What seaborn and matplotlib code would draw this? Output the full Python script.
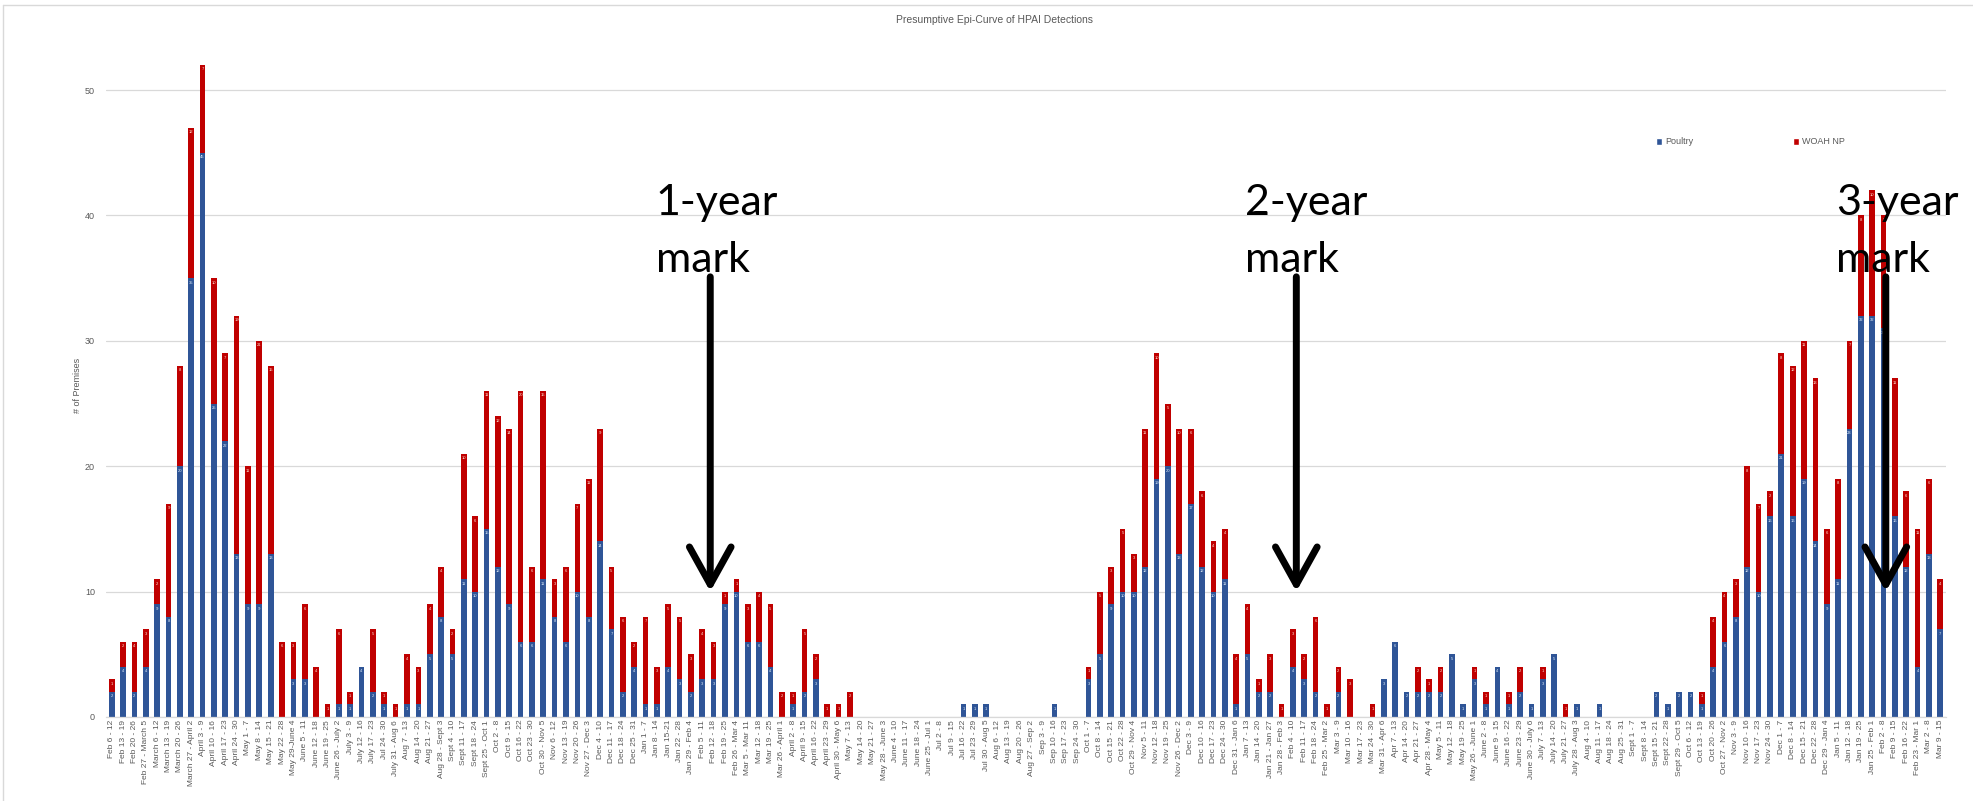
import numpy as np
import pandas as pd
import seaborn as sns
import matplotlib
matplotlib.use("Agg")
import matplotlib.pyplot as plt
from matplotlib.patches import Patch
from matplotlib.lines import Line2D

weeks = [
    "Feb 6 - 12", "Feb 13 - 19", "Feb 20 - 26", "Feb 27 - March 5", "March 6 - 12",
    "March 13 - 19", "March 20 - 26", "March 27 - April 2", "April 3 - 9", "April 10 - 16",
    "April 17 - 23", "April 24 - 30", "May 1 - 7", "May 8 - 14", "May 15 - 21",
    "May 22 - 28", "May 29-June 4", "June 5 - 11", "June 12 - 18", "June 19 - 25",
    "June 26 - July 2", "July 3 - 9", "July 12 - 16", "July 17 - 23", "Jul 24 - 30",
    "July 31 - Aug 6", "Aug 7 - 13", "Aug 14 - 20", "Aug 21 - 27", "Aug 28 - Sept 3",
    "Sept 4 - 10", "Sept 11 - 17", "Sept 18 - 24", "Sept 25 - Oct 1", "Oct 2 - 8",
    "Oct 9 - 15", "Oct 16 - 22", "Oct 23 - 30", "Oct 30 - Nov 5", "Nov 6 - 12",
    "Nov 13 - 19", "Nov 20 - 26", "Nov 27 - Dec 3", "Dec 4 - 10", "Dec 11 - 17",
    "Dec 18 - 24", "Dec 25 - 31", "Jan 1 - 7", "Jan 8 - 14", "Jan 15-21",
    "Jan 22 - 28", "Jan 29 - Feb 4", "Feb 5 - 11", "Feb 12 - 18", "Feb 19 - 25",
    "Feb 26 - Mar 4", "Mar 5 - Mar 11", "Mar 12 - 18", "Mar 19 - 25", "Mar 26 - April 1",
    "April 2 - 8", "April 9 - 15", "April 16 - 22", "April 23 - 29", "April 30 - May 6",
    "May 7 - 13", "May 14 - 20", "May 21 - 27", "May 28 - June 3", "June 4 - 10",
    "June 11 - 17", "June 18 - 24", "June 25 - Jul 1", "Jul 2 - 8", "Jul 9 - 15",
    "Jul 16 - 22", "Jul 23 - 29", "Jul 30 - Aug 5", "Aug 6 - 12", "Aug 13 - 19",
    "Aug 20 - 26", "Aug 27 - Sep 2", "Sep 3 - 9", "Sep 10 - 16", "Sep 17 - 23",
    "Sep 24 - 30", "Oct 1 - 7", "Oct 8 - 14", "Oct 15 - 21", "Oct 22 - 28",
    "Oct 29 - Nov 4", "Nov 5 - 11", "Nov 12 - 18", "Nov 19 - 25", "Nov 26 - Dec 2",
    "Dec 3 - 9", "Dec 10 - 16", "Dec 17 - 23", "Dec 24 - 30", "Dec 31 - Jan 6",
    "Jan 7 - 13", "Jan 14 - 20", "Jan 21 - Jan 27", "Jan 28 - Feb 3", "Feb 4 - 10",
    "Feb 11 - 17", "Feb 18 - 24", "Feb 25 - Mar 2", "Mar 3 - 9", "Mar 10 - 16",
    "Mar 17 - 23", "Mar 24 - 30", "Mar 31 - Apr 6", "Apr 7 - 13", "Apr 14 - 20",
    "Apr 21 - 27", "Apr 28 - May 4", "May 5 - 11", "May 12 - 18", "May 19 - 25",
    "May 26 - June 1", "June 2 - 8", "June 9 - 15", "June 16 - 22", "June 23 - 29",
    "June 30 - July 6", "July 7 - 13", "July 14 - 20", "July 21 - 27", "July 28 - Aug 3",
    "Aug 4 - 10", "Aug 11 - 17", "Aug 18 - 24", "Aug 25 - 31", "Sept 1 - 7",
    "Sept 8 - 14", "Sept 15 - 21", "Sept 22 - 28", "Sept 29 - Oct 5", "Oct 6 - 12",
    "Oct 13 - 19", "Oct 20 - 26", "Oct 27 - Nov 2", "Nov 3 - 9", "Nov 10 - 16",
    "Nov 17 - 23", "Nov 24 - 30", "Dec 1 - 7", "Dec 8 - 14", "Dec 15 - 21",
    "Dec 22 - 28", "Dec 29 - Jan 4", "Jan 5 - 11", "Jan 12 - 18", "Jan 19 - 25",
    "Jan 25 - Feb 1", "Feb 2 - 8", "Feb 9 - 15", "Feb 16 - 22", "Feb 23 - Mar 1",
    "Mar 2 - 8", "Mar 9 - 15",
]

poultry = [
    2, 4, 2, 4, 9, 8, 20, 35, 45, 25,
    22, 13, 9, 9, 13, 0, 3, 3, 0, 0,
    1, 1, 4, 2, 1, 0, 1, 1, 5, 8,
    5, 11, 10, 15, 12, 9, 6, 6, 11, 8,
    6, 10, 8, 14, 7, 2, 4, 1, 1, 4,
    3, 2, 3, 3, 9, 10, 6, 6, 4, 0,
    1, 2, 3, 0, 0, 0, 0, 0, 0, 0,
    0, 0, 0, 0, 0, 1, 1, 1, 0, 0,
    0, 0, 0, 1, 0, 0, 3, 5, 9, 10,
    10, 12, 19, 20, 13, 17, 12, 10, 11, 1,
    5, 2, 2, 0, 4, 3, 2, 0, 2, 0,
    0, 0, 3, 6, 2, 2, 2, 2, 5, 1,
    3, 1, 4, 1, 2, 1, 3, 5, 0, 1,
    0, 1, 0, 0, 0, 0, 2, 1, 2, 2,
    1, 4, 6, 8, 12, 10, 16, 21, 16, 19,
    14, 9, 11, 23, 32, 32, 31, 16, 12, 4,
    13, 7,
]

woah_np = [
    1, 2, 4, 3, 2, 9, 8, 12, 7, 10,
    7, 19, 11, 21, 15, 6, 3, 6, 4, 1,
    6, 1, 0, 5, 1, 1, 4, 3, 4, 4,
    2, 10, 6, 11, 12, 14, 20, 6, 15, 3,
    6, 7, 11, 9, 5, 6, 2, 7, 3, 5,
    5, 3, 4, 3, 1, 1, 3, 4, 5, 2,
    1, 5, 2, 1, 1, 2, 0, 0, 0, 0,
    0, 0, 0, 0, 0, 0, 0, 0, 0, 0,
    0, 0, 0, 0, 0, 0, 1, 5, 3, 5,
    3, 11, 10, 5, 10, 6, 6, 4, 4, 4,
    4, 1, 3, 1, 3, 2, 6, 1, 2, 3,
    0, 1, 0, 0, 0, 2, 1, 2, 0, 0,
    1, 1, 0, 1, 2, 0, 1, 0, 1, 0,
    0, 0, 0, 0, 0, 0, 0, 0, 0, 0,
    1, 4, 4, 3, 8, 7, 2, 8, 12, 11,
    13, 6, 8, 7, 8, 10, 9, 11, 6, 11,
    6, 4,
]

BLUE = "#2F5597"
RED = "#C00000"
GRAY = "#595959"

sns.set_theme(style="white")
plt.rcParams["font.family"] = ["Liberation Sans", "DejaVu Sans"]

n = len(weeks)
df = pd.DataFrame({
    "idx": np.arange(n),
    "week": weeks,
    "Poultry": poultry,
    "WOAH NP": woah_np,
})
df["total"] = df["Poultry"] + df["WOAH NP"]

W, H = 1973, 801
fig = plt.figure(figsize=(W / 100, H / 100), dpi=100)
ax = fig.add_axes([106 / W, 84 / H, 1840 / W, 717 / H])

sns.barplot(data=df, x="idx", y="total", color=RED, saturation=1, width=0.5,
            linewidth=0, ax=ax)
sns.barplot(data=df, x="idx", y="Poultry", color=BLUE, saturation=1, width=0.5,
            linewidth=0, ax=ax)

ax.set_xlim(-0.5, n - 0.5)
ax.set_ylim(0, 717 / 12.54)
ax.set_yticks(range(0, 51, 10))
ax.yaxis.grid(True, color="#D9D9D9", lw=0.9)
ax.set_axisbelow(True)
for s in ["top", "right", "left"]:
    ax.spines[s].set_visible(False)
ax.spines["bottom"].set_color("#D9D9D9")
ax.spines["bottom"].set_linewidth(0.9)

ax.set_xticks(range(n))
ax.set_xticklabels(weeks, rotation=90, fontsize=6, color=GRAY)
ax.tick_params(axis="x", length=0, pad=2)
ax.tick_params(axis="y", length=0, pad=8, labelsize=6.5, labelcolor=GRAY)
ax.set_xlabel("")
ax.set_ylabel("")

# data labels
for i, (p, w) in enumerate(zip(poultry, woah_np)):
    if p > 0:
        ax.text(i, p - 0.2, str(p), ha="center", va="top", fontsize=3,
                color="#DDEBF7")
    if w > 0:
        ax.text(i, p + w - 0.2, str(w), ha="center", va="top", fontsize=3,
                color="#FCE4D6")

fig.text(994 / W, 1 - 20 / H, "Presumptive Epi-Curve of HPAI Detections",
         ha="center", va="center", fontsize=7.5, color=GRAY)
fig.text(78 / W, 1 - 385 / H, "# of Premises", rotation=90, ha="center",
         va="center", fontsize=6.5, color=GRAY)

handles = [Patch(facecolor=BLUE, label="Poultry"), Patch(facecolor=RED, label="WOAH NP")]
fig.legend(handles=handles, loc="center left", bbox_to_anchor=(1648 / W, 1 - 142 / H),
           ncol=2, frameon=False, fontsize=6.5, labelcolor=GRAY,
           handlelength=0.7, handleheight=0.7, handletextpad=0.3, columnspacing=11)

# year-mark annotations
marks = [(52.7, 47.9, "1-year"), (104.3, 99.8, "2-year"), (156.2, 151.8, "3-year")]
for ax_x, tx, lab in marks:
    ax.annotate("", xy=(ax_x, 10), xytext=(ax_x, 35.1),
                arrowprops=dict(arrowstyle="->,head_length=0.9,head_width=0.5",
                                lw=5, color="black", shrinkA=0, shrinkB=0,
                                mutation_scale=30))
    ax.text(tx, 40, lab, fontsize=31, family="Lato", va="baseline", ha="left",
            color="black")
    ax.text(tx, 35.5, "mark", fontsize=31, family="Lato", va="baseline", ha="left",
            color="black")

# chart frame edges
fig.add_artist(Line2D([3 / W, 1], [1 - 5 / H, 1 - 5 / H], color="#D9D9D9", lw=1))
fig.add_artist(Line2D([3 / W, 3 / W], [0, 1 - 5 / H], color="#D9D9D9", lw=1))

fig.savefig("out.png", dpi=100)
